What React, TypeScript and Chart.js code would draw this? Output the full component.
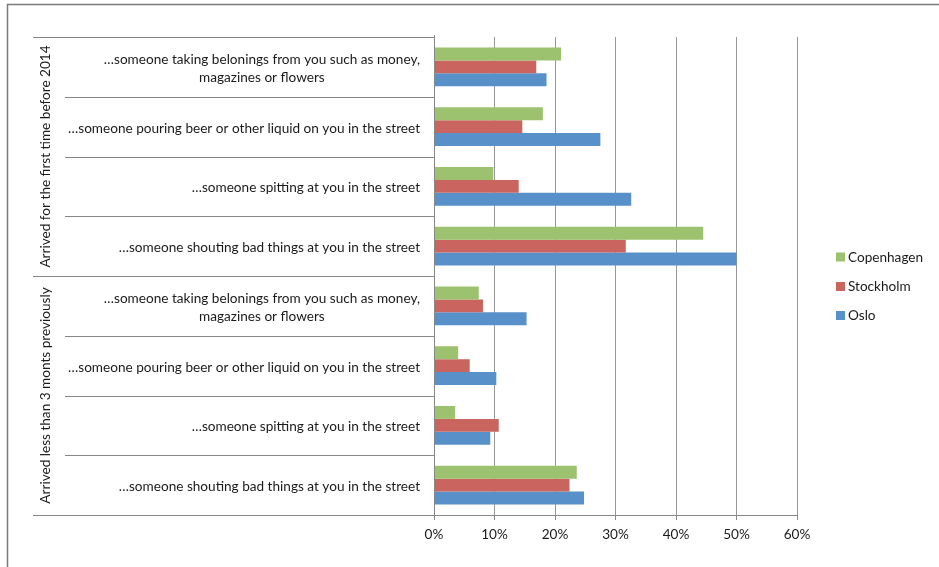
import React, { useEffect, useRef } from "react";
import { Chart, registerables } from "chart.js";

Chart.register(...registerables);

const categories: (string | string[])[] = [
  ["…someone taking belonings from you such as money,", "magazines or flowers"],
  "…someone pouring beer or other liquid on you in the street",
  "…someone spitting at you in the street",
  "…someone shouting bad things at you in the street",
  ["…someone taking belonings from you such as money,", "magazines or flowers"],
  "…someone pouring beer or other liquid on you in the street",
  "…someone spitting at you in the street",
  "…someone shouting bad things at you in the street",
];
const groups = ["Arrived for the first time before 2014", "Arrived less than 3 monts previously"];
const groupSize = 4;
const seriesNames = ["Copenhagen", "Stockholm", "Oslo"];
const copenhagen = [21.0, 18.0, 9.8, 44.5, 7.4, 4.0, 3.5, 23.6];
const stockholm = [16.9, 14.6, 14.0, 31.7, 8.1, 5.9, 10.7, 22.4];
const oslo = [18.6, 27.5, 32.6, 50.0, 15.3, 10.3, 9.3, 24.8];
const xTicks = [0, 10, 20, 30, 40, 50, 60];
const colors = ["#9DC26F", "#C9645E", "#5891C9"];

const FONT = "Lato, 'Open Sans', sans-serif";
const FSIZE = 13.6;
const TEXT = "#1a1a1a";
const LINE = "#878787";

const decorPlugin = {
  id: "decor",
  afterDraw(chart: any) {
    const ctx = chart.ctx as CanvasRenderingContext2D;
    const area = chart.chartArea;
    const n = categories.length;
    const step = (area.bottom - area.top) / n;
    const crisp = (v: number) => Math.round(v) + 0.5;
    ctx.save();

    // outer frame
    ctx.strokeStyle = "#7a7a7a";
    ctx.lineWidth = 1.5;
    ctx.beginPath();
    ctx.moveTo(7.5, 600);
    ctx.lineTo(7.5, 4.5);
    ctx.lineTo(945, 4.5);
    ctx.stroke();

    // category separators
    ctx.strokeStyle = LINE;
    ctx.lineWidth = 1;
    for (let i = 0; i <= n; i++) {
      const y = crisp(area.top + i * step);
      const isGroup = i % groupSize === 0;
      ctx.beginPath();
      ctx.moveTo(isGroup ? 33 : 65, y);
      ctx.lineTo(area.left, y);
      ctx.stroke();
    }
    // vertical axis line
    ctx.beginPath();
    ctx.moveTo(crisp(area.left), area.top - 2);
    ctx.lineTo(crisp(area.left), area.bottom);
    ctx.stroke();

    // category labels
    ctx.fillStyle = TEXT;
    ctx.font = `${FSIZE}px ${FONT}`;
    ctx.textBaseline = "middle";
    const rightX = 420;
    const lh = 17.5;
    categories.forEach((lab, i) => {
      const cy = chart.scales.y.getPixelForValue(i);
      const lines = Array.isArray(lab) ? lab : [lab];
      const widths = lines.map((l) => ctx.measureText(l).width);
      const maxW = Math.max(...widths);
      const cx = rightX - maxW / 2;
      ctx.textAlign = "center";
      lines.forEach((l, k) => {
        const y = cy + 1.5 + (k - (lines.length - 1) / 2) * lh;
        ctx.fillText(l, cx, y);
      });
    });

    // group labels
    groups.forEach((g, gi) => {
      const top = area.top + gi * groupSize * step;
      const bot = top + groupSize * step;
      ctx.save();
      ctx.translate(46, (top + bot) / 2);
      ctx.rotate(-Math.PI / 2);
      ctx.textAlign = "center";
      ctx.textBaseline = "middle";
      ctx.fillText(g, 0, 0);
      ctx.restore();
    });

    // legend
    const legendY = [257, 286.5, 315.5];
    seriesNames.forEach((name, i) => {
      ctx.fillStyle = colors[i];
      ctx.fillRect(836, legendY[i] - 4.5, 9, 9);
      ctx.fillStyle = TEXT;
      ctx.textAlign = "left";
      ctx.textBaseline = "middle";
      ctx.fillText(name, 848, legendY[i] + 0.5);
    });

    ctx.restore();
  },
};

export default function App() {
  const ref = useRef<HTMLCanvasElement | null>(null);
  useEffect(() => {
    if (!ref.current) return;
    const chart = new Chart(ref.current, {
      type: "bar",
      data: {
        labels: categories.map((c) => (Array.isArray(c) ? c.join(" ") : c)),
        datasets: [
          { label: seriesNames[0], data: copenhagen, backgroundColor: colors[0] },
          { label: seriesNames[1], data: stockholm, backgroundColor: colors[1] },
          { label: seriesNames[2], data: oslo, backgroundColor: colors[2] },
        ],
      },
      options: {
        indexAxis: "y",
        responsive: false,
        animation: false,
        devicePixelRatio: 1,
        layout: { padding: { left: 0, top: 37, right: 142, bottom: 0 } },
        datasets: { bar: { categoryPercentage: 0.65, barPercentage: 1.0, borderWidth: 0 } },
        plugins: { legend: { display: false }, tooltip: { enabled: false } },
        scales: {
          x: {
            min: 0,
            max: 60,
            afterFit: (s: any) => { s.height = 52; },
            afterBuildTicks: (s: any) => { s.ticks = xTicks.map((v) => ({ value: v })); },
            ticks: {
              callback: (v: any) => `${v}%`,
              color: TEXT,
              font: { family: FONT, size: FSIZE },
              padding: 6,
            },
            grid: { color: "#979797", lineWidth: 1, drawTicks: true, tickLength: 5, tickColor: LINE },
            border: { display: true, color: LINE, width: 1 },
          },
          y: {
            afterFit: (s: any) => { s.width = 434; },
            ticks: { display: false },
            grid: { display: false, drawTicks: false },
            border: { display: false },
          },
        },
      },
      plugins: [decorPlugin],
    } as any);
    return () => chart.destroy();
  }, []);
  return (
    <div style={{ position: "fixed", left: 0, top: 0, width: 939, height: 567, background: "#fff" }}>
      <canvas ref={ref} width={939} height={567} style={{ display: "block", width: 939, height: 567 }} />
    </div>
  );
}
